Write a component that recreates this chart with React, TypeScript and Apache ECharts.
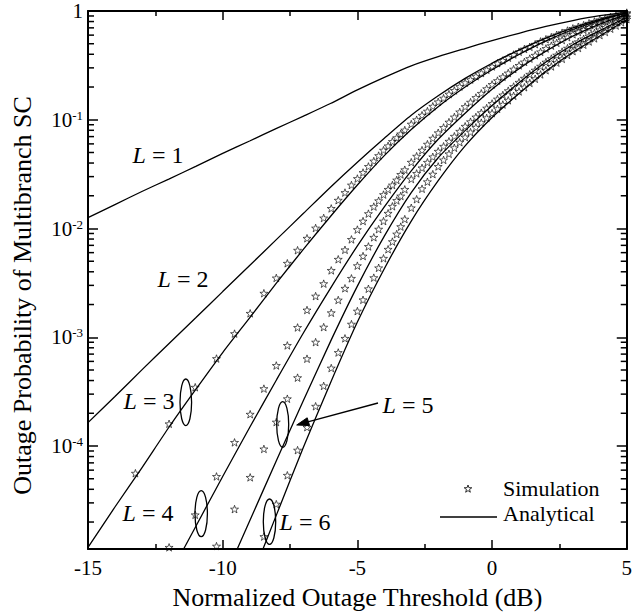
import React, { useEffect, useRef } from 'react';
import * as echarts from 'echarts';

// Analytical curves, read at whole-dB thresholds
const THRESHOLD_DB = [-15, -14, -13, -12, -11, -10, -9, -8, -7, -6, -5, -4, -3, -2, -1, 0, 1, 2, 3, 4, 5];
const ANALYTICAL_L1 = [0.0126, 0.0166, 0.0219, 0.0285, 0.0372, 0.049, 0.0638, 0.0832, 0.108, 0.141, 0.188, 0.245, 0.313, 0.38, 0.452, 0.535, 0.624, 0.721, 0.817, 0.906, 0.973];
const ANALYTICAL_L2 = [1.64e-4, 2.85e-4, 5.01e-4, 8.71e-4, 1.51e-3, 2.63e-3, 4.57e-3, 7.94e-3, 1.38e-2, 2.4e-2, 4.07e-2, 6.76e-2, 0.11, 0.166, 0.24, 0.331, 0.437, 0.562, 0.7, 0.839, 0.959];
const ANALYTICAL_L3 = [1.17e-5, 2.75e-5, 6.31e-5, 1.48e-4, 3.31e-4, 7.24e-4, 1.51e-3, 3.16e-3, 6.46e-3, 1.29e-2, 2.51e-2, 4.68e-2, 8.13e-2, 0.132, 0.2, 0.288, 0.398, 0.531, 0.676, 0.822, 0.955];
const ANALYTICAL_L4 = [null, null, null, 6.31e-6, 1.82e-5, 5.25e-5, 1.48e-4, 4.07e-4, 1.1e-3, 2.82e-3, 6.92e-3, 1.58e-2, 3.39e-2, 6.61e-2, 0.115, 0.191, 0.295, 0.427, 0.589, 0.759, 0.933];
const ANALYTICAL_L5 = [null, null, null, null, null, 5.62e-6, 2.04e-5, 7.41e-5, 2.63e-4, 9.12e-4, 2.95e-3, 8.51e-3, 2.14e-2, 4.47e-2, 7.94e-2, 0.135, 0.219, 0.339, 0.49, 0.661, 0.871];
const ANALYTICAL_L6 = [null, null, null, null, null, null, 5.5e-6, 2.34e-5, 9.77e-5, 3.8e-4, 1.38e-3, 4.27e-3, 1.17e-2, 2.75e-2, 5.75e-2, 0.105, 0.174, 0.279, 0.417, 0.589, 0.832];

// Simulation points (thresholds in dB)
const SIM_THRESHOLD_DB = [
  -13.24, -11.99, -11.02, -10.23, -9.56, -8.98, -8.47, -8.01, -7.6, -7.22, -6.87, -6.55, -6.25, -5.97,
  -5.71, -5.46, -5.22, -5.0, -4.79, -4.59, -4.39, -4.21, -4.03, -3.86, -3.7, -3.54, -3.39, -3.24,
  -3.0, -2.8, -2.6, -2.4, -2.2, -2.0, -1.8, -1.6, -1.4, -1.2, -1.0, -0.8, -0.6, -0.4, -0.2, 0,
  0.2, 0.4, 0.6, 0.8, 1.0, 1.2, 1.4, 1.6, 1.8, 2.0, 2.2, 2.4, 2.6, 2.8, 3.0, 3.2, 3.4, 3.6, 3.8,
  4.0, 4.2, 4.4, 4.6, 4.8, 5.0,
];
const SIM_L3 = [
  5.62e-5, 1.6e-4, 3.47e-4, 6.37e-4, 1.08e-3, 1.66e-3, 2.54e-3, 3.51e-3, 4.79e-3, 6.31e-3, 8.13e-3, 1.01e-2, 1.25e-2, 1.53e-2,
  1.82e-2, 2.14e-2, 2.51e-2, 2.88e-2, 3.27e-2, 3.72e-2, 4.17e-2, 4.68e-2, 5.25e-2, 5.75e-2, 6.31e-2, 6.84e-2, 7.41e-2, 8.04e-2,
  9.12e-2, 0.1, 0.11, 0.12, 0.133, 0.146, 0.158, 0.172, 0.186, 0.202, 0.219, 0.234, 0.251, 0.269, 0.288, 0.309,
  0.331, 0.351, 0.372, 0.398, 0.422, 0.447, 0.468, 0.495, 0.525, 0.55, 0.575, 0.603, 0.631, 0.661, 0.692, 0.716, 0.741, 0.771, 0.8,
  0.83, 0.855, 0.883, 0.91, 0.938, 0.966,
];
const SIM_L4 = [
  null, 1.17e-5, 2.33e-5, 5.25e-5, 1.08e-4, 1.96e-4, 3.37e-4, 5.5e-4, 8.41e-4, 1.23e-3, 1.78e-3, 2.39e-3, 3.11e-3, 4.12e-3,
  5.21e-3, 6.37e-3, 7.94e-3, 9.77e-3, 1.17e-2, 1.37e-2, 1.59e-2, 1.8e-2, 2.05e-2, 2.29e-2, 2.51e-2, 2.79e-2, 3.14e-2, 3.47e-2,
  4.07e-2, 4.62e-2, 5.25e-2, 5.96e-2, 6.76e-2, 7.59e-2, 8.49e-2, 9.51e-2, 0.106, 0.118, 0.132, 0.145, 0.16, 0.175, 0.193, 0.211,
  0.229, 0.248, 0.269, 0.292, 0.316, 0.34, 0.365, 0.392, 0.421, 0.452, 0.48, 0.509, 0.541, 0.574, 0.61, 0.64, 0.671, 0.705, 0.74,
  0.776, 0.807, 0.839, 0.873, 0.908, 0.944,
];
const SIM_L5 = [
  null, null, null, 1.2e-5, 2.63e-5, 5.15e-5, 9.4e-5, 1.66e-4, 2.72e-4, 4.25e-4, 6.35e-4, 9.02e-4, 1.24e-3, 1.68e-3,
  2.2e-3, 2.82e-3, 3.48e-3, 4.55e-3, 5.58e-3, 6.84e-3, 8.3e-3, 9.86e-3, 1.17e-2, 1.38e-2, 1.6e-2, 1.81e-2, 1.99e-2, 2.29e-2,
  2.85e-2, 3.21e-2, 3.61e-2, 4.06e-2, 4.56e-2, 5.13e-2, 5.7e-2, 6.34e-2, 7.05e-2, 7.83e-2, 8.71e-2, 9.59e-2, 0.106, 0.116, 0.128, 0.141,
  0.155, 0.169, 0.185, 0.202, 0.221, 0.241, 0.262, 0.286, 0.311, 0.339, 0.365, 0.393, 0.423, 0.455, 0.49, 0.521, 0.555, 0.59, 0.628,
  0.668, 0.706, 0.746, 0.789, 0.834, 0.881,
];
const SIM_L6 = [
  null, null, null, null, null, null, 1.47e-5, 2.92e-5, 5.38e-5, 9.16e-5, 1.49e-4, 2.32e-4, 3.57e-4, 5.21e-4,
  7.24e-4, 9.77e-4, 1.32e-3, 1.74e-3, 2.21e-3, 2.79e-3, 3.53e-3, 4.35e-3, 5.32e-3, 6.44e-3, 7.57e-3, 8.89e-3, 1.04e-2, 1.22e-2,
  1.55e-2, 1.86e-2, 2.32e-2, 2.69e-2, 3.16e-2, 3.72e-2, 4.27e-2, 4.86e-2, 5.52e-2, 6.21e-2, 6.92e-2, 7.69e-2, 8.51e-2, 9.4e-2, 0.104, 0.115,
  0.126, 0.138, 0.151, 0.166, 0.182, 0.199, 0.218, 0.238, 0.261, 0.285, 0.309, 0.335, 0.363, 0.394, 0.427, 0.457, 0.489, 0.524, 0.56,
  0.6, 0.641, 0.687, 0.735, 0.787, 0.841,
];

const Y_MIN = 1.13e-5;
const Y_MAX = 1;
const Y_MINOR_TICKS = [
  2e-5, 3e-5, 4e-5, 5e-5, 6e-5, 7e-5, 8e-5, 9e-5,
  2e-4, 3e-4, 4e-4, 5e-4, 6e-4, 7e-4, 8e-4, 9e-4,
  2e-3, 3e-3, 4e-3, 5e-3, 6e-3, 7e-3, 8e-3, 9e-3,
  2e-2, 3e-2, 4e-2, 5e-2, 6e-2, 7e-2, 8e-2, 9e-2,
  0.2, 0.3, 0.4, 0.5, 0.6, 0.7, 0.8, 0.9,
];
const CURVE_LABELS = ['L = 1', 'L = 2', 'L = 3', 'L = 4', 'L = 5', 'L = 6'];
const LEGEND_LABELS = ['Simulation', 'Analytical'];

const FONT = 'Liberation Serif';
const STAR = 'path://M0,-10L2.35,-3.24L9.51,-3.09L3.8,1.24L5.88,8.09L0,4L-5.88,8.09L-3.8,1.24L-9.51,-3.09L-2.35,-3.24Z';

function pairs(xs: number[], ys: (number | null)[]) {
  const out: number[][] = [];
  xs.forEach((x, i) => {
    const y = ys[i];
    if (y !== null && y !== undefined) out.push([x, y]);
  });
  return out;
}

function label(text: string, x: number, y: number) {
  const parts = text.split(' = ');
  return {
    type: 'text',
    x,
    y,
    z: 20,
    style: {
      text: '{i|' + parts[0] + '} = ' + parts[1],
      fontSize: 24,
      fontFamily: FONT,
      fill: '#000',
      align: 'center',
      verticalAlign: 'middle',
      textAlign: 'center',
      textVerticalAlign: 'middle',
      rich: {
        i: { fontStyle: 'italic', fontSize: 24, fontFamily: FONT, fill: '#000' },
      },
    },
  };
}

function ellipse(cx: number, cy: number, rx: number, ry: number) {
  return {
    type: 'ellipse',
    z: 20,
    shape: { cx, cy, rx, ry },
    style: { fill: 'none', stroke: '#000', lineWidth: 1.3 },
  };
}

function legendText(text: string, x: number, y: number) {
  return {
    type: 'text',
    x,
    y,
    z: 20,
    style: {
      text,
      fontSize: 22,
      fontFamily: FONT,
      fill: '#000',
      align: 'left',
      verticalAlign: 'middle',
      textAlign: 'left',
      textVerticalAlign: 'middle',
    },
  };
}

export default function App() {
  const ref = useRef<HTMLDivElement>(null);

  useEffect(() => {
    const chart = echarts.init(ref.current as HTMLDivElement, null, { renderer: 'svg' });

    const axisLine = { onZero: false, lineStyle: { color: '#000', width: 2 } };
    const xTick = { inside: true, length: 9, lineStyle: { color: '#000', width: 1.5 } };
    const xMinor = { show: true, splitNumber: 2, length: 5, lineStyle: { color: '#000', width: 1.5 } };
    const yTick = { inside: true, length: 10, lineStyle: { color: '#000', width: 1.5 } };

    const analytical = [ANALYTICAL_L1, ANALYTICAL_L2, ANALYTICAL_L3, ANALYTICAL_L4, ANALYTICAL_L5, ANALYTICAL_L6].map((ys) => ({
      type: 'line',
      name: 'Analytical',
      data: pairs(THRESHOLD_DB, ys),
      showSymbol: false,
      smooth: 0.25,
      clip: true,
      lineStyle: { color: '#000', width: 1.3 },
      z: 3,
    }));

    const simulation = [SIM_L3, SIM_L4, SIM_L5, SIM_L6].map((ys) => ({
      type: 'scatter',
      name: 'Simulation',
      data: pairs(SIM_THRESHOLD_DB, ys),
      symbol: STAR,
      symbolSize: 8,
      symbolKeepAspect: true,
      clip: true,
      itemStyle: { color: 'rgba(0,0,0,0)', borderColor: '#000', borderWidth: 0.8 },
      z: 4,
    }));

    const minorTicks = {
      type: 'custom',
      silent: true,
      data: Y_MINOR_TICKS.map((v) => [-15, v]),
      renderItem: (_params: any, api: any) => {
        const v = api.value(1);
        const l = api.coord([-15, v]);
        const r = api.coord([5, v]);
        return {
          type: 'group',
          children: [
            { type: 'line', shape: { x1: l[0], y1: l[1], x2: l[0] + 6, y2: l[1] }, style: { stroke: '#000', lineWidth: 1.5 } },
            { type: 'line', shape: { x1: r[0] - 6, y1: r[1], x2: r[0], y2: r[1] }, style: { stroke: '#000', lineWidth: 1.5 } },
          ],
        };
      },
      z: 5,
    };

    const starPts = [
      [0, -4], [0.94, -1.3], [3.8, -1.24], [1.52, 0.5], [2.35, 3.24], [0, 1.6],
      [-2.35, 3.24], [-1.52, 0.5], [-3.8, -1.24], [-0.94, -1.3],
    ];

    const option: any = {
      animation: false,
      backgroundColor: '#fff',
      textStyle: { fontFamily: FONT, color: '#000' },
      grid: { left: 88, right: 8, top: 11, bottom: 65, containLabel: false },
      xAxis: [
        {
          type: 'value',
          min: -15,
          max: 5,
          interval: 5,
          position: 'bottom',
          axisLine,
          axisTick: xTick,
          minorTick: xMinor,
          splitLine: { show: false },
          minorSplitLine: { show: false },
          axisLabel: { color: '#000', fontSize: 21, fontFamily: FONT, margin: 8 },
          name: 'Normalized Outage Threshold (dB)',
          nameLocation: 'middle',
          nameGap: 35,
          nameTextStyle: { fontSize: 26, fontFamily: FONT, color: '#000' },
        },
        {
          type: 'value',
          min: -15,
          max: 5,
          interval: 5,
          position: 'top',
          axisLine,
          axisTick: xTick,
          minorTick: xMinor,
          splitLine: { show: false },
          axisLabel: { show: false },
        },
      ],
      yAxis: [
        {
          type: 'log',
          logBase: 10,
          min: Y_MIN,
          max: Y_MAX,
          position: 'left',
          axisLine,
          axisTick: yTick,
          splitLine: { show: false },
          axisLabel: {
            margin: 5,
            showMaxLabel: true,
            showMinLabel: true,
            formatter: (v: number) => {
              const e = Math.log10(v);
              const r = Math.round(e);
              if (Math.abs(e - r) > 1e-6) return '';
              if (r === 0) return '{b|1}';
              return '{b|10}{s|' + r + '}';
            },
            rich: {
              b: { fontSize: 21, fontFamily: FONT, color: '#000', lineHeight: 22 },
              s: { fontSize: 13, fontFamily: FONT, color: '#000', verticalAlign: 'top', lineHeight: 13 },
            },
          },
          name: 'Outage Probability of Multibranch SC',
          nameLocation: 'middle',
          nameGap: 53,
          nameRotate: 90,
          nameTextStyle: { fontSize: 26, fontFamily: FONT, color: '#000', padding: [0, 31, 0, 0] },
        },
        {
          type: 'log',
          logBase: 10,
          min: Y_MIN,
          max: Y_MAX,
          position: 'right',
          axisLine,
          axisTick: yTick,
          splitLine: { show: false },
          axisLabel: { show: false },
        },
      ],
      series: [...analytical, ...simulation, minorTicks],
      graphic: [
        label(CURVE_LABELS[0], 158, 155),
        label(CURVE_LABELS[1], 183, 279),
        label(CURVE_LABELS[2], 149, 401),
        label(CURVE_LABELS[3], 148, 513),
        label(CURVE_LABELS[4], 408, 405),
        label(CURVE_LABELS[5], 305, 522),
        ellipse(185.8, 402.3, 5.8, 23.3),
        ellipse(201.2, 513.7, 6.2, 23),
        ellipse(282.7, 424.5, 6, 22.8),
        ellipse(269.5, 521.7, 6.2, 22.7),
        {
          type: 'line',
          z: 20,
          shape: { x1: 378, y1: 403, x2: 306, y2: 422.3 },
          style: { stroke: '#000', lineWidth: 1.3 },
        },
        {
          type: 'polygon',
          z: 20,
          shape: { points: [[296.7, 425], [309.6, 425.6], [307.2, 417.8]] },
          style: { fill: '#000', stroke: '#000', lineWidth: 1 },
        },
        {
          type: 'group',
          x: 468,
          y: 489,
          z: 20,
          children: [
            {
              type: 'polygon',
              shape: { points: starPts },
              style: { fill: 'none', stroke: '#000', lineWidth: 0.8 },
            },
          ],
        },
        legendText(LEGEND_LABELS[0], 503, 488),
        {
          type: 'line',
          z: 20,
          shape: { x1: 440, y1: 517, x2: 497, y2: 517 },
          style: { stroke: '#000', lineWidth: 1.3 },
        },
        legendText(LEGEND_LABELS[1], 503, 513),
      ],
    };

    chart.setOption(option);
    return () => chart.dispose();
  }, []);

  return (
    <div
      ref={ref}
      style={{ position: 'fixed', left: 0, top: 0, width: 635, height: 615, background: '#fff' }}
    />
  );
}
